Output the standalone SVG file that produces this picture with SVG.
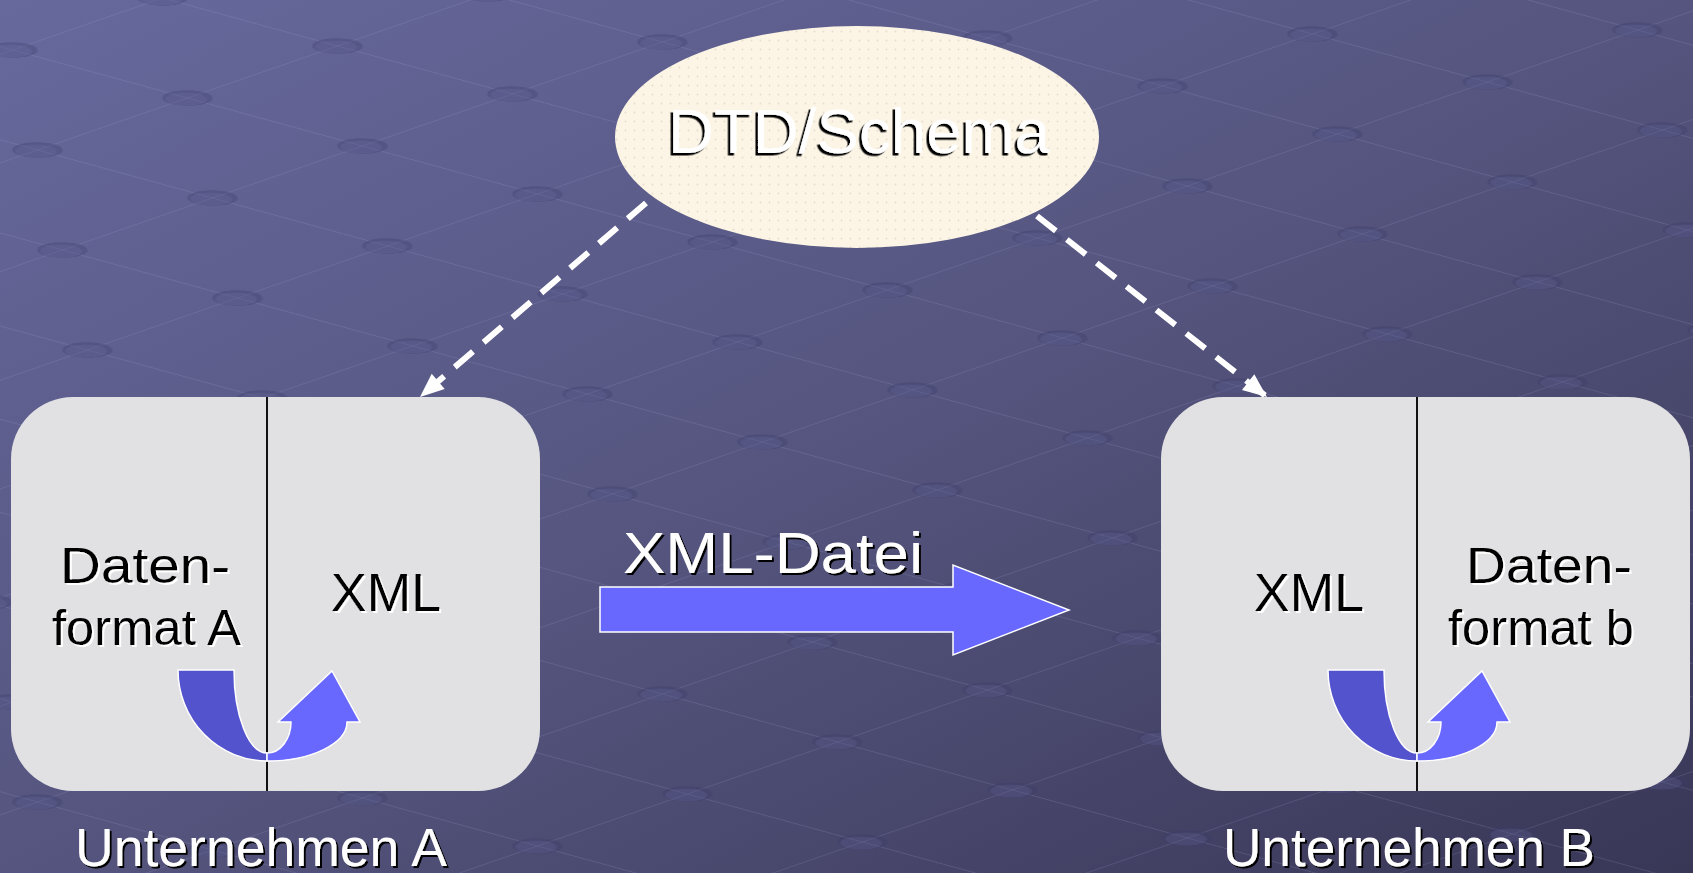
<svg xmlns="http://www.w3.org/2000/svg" width="1693" height="873" viewBox="0 0 1693 873">
  <defs>
    <linearGradient id="bg" x1="0" y1="0" x2="1" y2="1">
      <stop offset="0" stop-color="#67699d"/>
      <stop offset="0.5" stop-color="#55557f"/>
      <stop offset="1" stop-color="#393756"/>
    </linearGradient>
    <pattern id="grid" patternUnits="userSpaceOnUse" width="1" height="1" patternTransform="matrix(175 48 150 -52 0 0)">
      <line x1="0.5" y1="0" x2="0.5" y2="1" stroke="#a4a6d8" stroke-opacity="0.2" stroke-width="0.008"/>
      <line x1="0" y1="0.5" x2="1" y2="0.5" stroke="#a4a6d8" stroke-opacity="0.2" stroke-width="0.008"/>
      <circle cx="0.5" cy="0.5" r="0.11" fill="#3a3a66" fill-opacity="0.3"/>
      <circle cx="0.505" cy="0.485" r="0.09" fill="#8486bb" fill-opacity="0.16"/>
    </pattern>
    <pattern id="dots" patternUnits="userSpaceOnUse" width="9" height="9">
      <rect width="9" height="9" fill="#fcf5e6"/>
      <circle cx="4.5" cy="4.5" r="0.9" fill="#e6dccb"/>
    </pattern>
    <filter id="shB" x="-10%" y="-20%" width="120%" height="140%">
      <feDropShadow dx="2" dy="2" stdDeviation="0" flood-color="#000" flood-opacity="1"/>
    </filter>
    <filter id="shBL" x="-10%" y="-20%" width="120%" height="140%">
      <feDropShadow dx="-2.5" dy="2.5" stdDeviation="0" flood-color="#000" flood-opacity="1"/>
    </filter>
    <filter id="shW" x="-10%" y="-20%" width="120%" height="140%">
      <feDropShadow dx="2" dy="2" stdDeviation="0" flood-color="#fff" flood-opacity="1"/>
    </filter>
    <marker id="ah" markerUnits="userSpaceOnUse" markerWidth="30" markerHeight="30" viewBox="0 0 30 30" refX="28" refY="15" orient="auto">
      <path d="M4,5 L28,15 L4,25 Z" fill="#fff"/>
    </marker>
  </defs>
  <style>
    text { font-family: "Liberation Sans", Arial, sans-serif; }
    .wt { fill: #fff; filter: url(#shB); }
    .bt { fill: #000; filter: url(#shW); }
    .box { fill: #e1e1e3; }
    .div { stroke: #111; stroke-width: 2; }
    .dk { fill: #5353cd; stroke: #fff; stroke-width: 1.5; }
    .lt { fill: #6868ff; stroke: #fff; stroke-width: 1.5; }
    .dash { stroke: #fff; stroke-width: 6; stroke-dasharray: 24 14; fill: none; marker-end: url(#ah); }
  </style>

  <rect width="1693" height="873" fill="url(#bg)"/>
  <rect width="1693" height="873" fill="url(#grid)"/>

  <g id="connectors">
    <line class="dash" x1="646" y1="203" x2="420" y2="397"/>
    <line class="dash" x1="1037" y1="216" x2="1267" y2="397"/>
    <g id="xml-datei-arrow">
      <path d="M600,587 L953,587 L953,565 L1069,610 L953,655 L953,632 L600,632 Z" fill="#6868ff" stroke="#fff" stroke-width="1.5"/>
      <text class="wt" x="623" y="573" font-size="57" textLength="300" lengthAdjust="spacingAndGlyphs">XML-Datei</text>
    </g>
  </g>

  <g id="schema">
    <ellipse cx="857" cy="137" rx="242" ry="111" fill="url(#dots)"/>
    <text x="668" y="153" font-size="63" textLength="382" lengthAdjust="spacingAndGlyphs" fill="#fff" filter="url(#shBL)">DTD/Schema</text>
  </g>

  <g id="unternehmen-a">
    <rect class="box" x="11" y="397" width="529" height="394" rx="62"/>
    <line class="div" x1="267" y1="397" x2="267" y2="791"/>
    <text class="bt" x="60" y="583" font-size="50" textLength="170" lengthAdjust="spacingAndGlyphs">Daten-</text>
    <text class="bt" x="52" y="645" font-size="50" textLength="189" lengthAdjust="spacingAndGlyphs">format A</text>
    <text class="bt" x="331" y="611" font-size="53" textLength="110" lengthAdjust="spacingAndGlyphs">XML</text>
    <path class="dk" d="M178,670 L234,670 A33,83 0 0 0 267,753 L267,761 A89,91 0 0 1 178,670 Z"/>
    <path class="lt" d="M267,753 A24,31 0 0 0 291,722 L278,722 L332,671 L360,722 L347,722 A80,39 0 0 1 267,761 Z"/>
    <text class="wt" x="75" y="866" font-size="53" textLength="372" lengthAdjust="spacingAndGlyphs">Unternehmen A</text>
  </g>

  <g id="unternehmen-b">
    <rect class="box" x="1161" y="397" width="529" height="394" rx="62"/>
    <line class="div" x1="1417" y1="397" x2="1417" y2="791"/>
    <text class="bt" x="1254" y="611" font-size="53" textLength="110" lengthAdjust="spacingAndGlyphs">XML</text>
    <text class="bt" x="1466" y="583" font-size="50" textLength="166" lengthAdjust="spacingAndGlyphs">Daten-</text>
    <text class="bt" x="1448" y="645" font-size="50" textLength="186" lengthAdjust="spacingAndGlyphs">format b</text>
    <path class="dk" d="M1328,670 L1384,670 A33,83 0 0 0 1417,753 L1417,761 A89,91 0 0 1 1328,670 Z"/>
    <path class="lt" d="M1417,753 A24,31 0 0 0 1441,722 L1428,722 L1482,671 L1510,722 L1497,722 A80,39 0 0 1 1417,761 Z"/>
    <text class="wt" x="1223" y="866" font-size="53" textLength="372" lengthAdjust="spacingAndGlyphs">Unternehmen B</text>
  </g>
</svg>
